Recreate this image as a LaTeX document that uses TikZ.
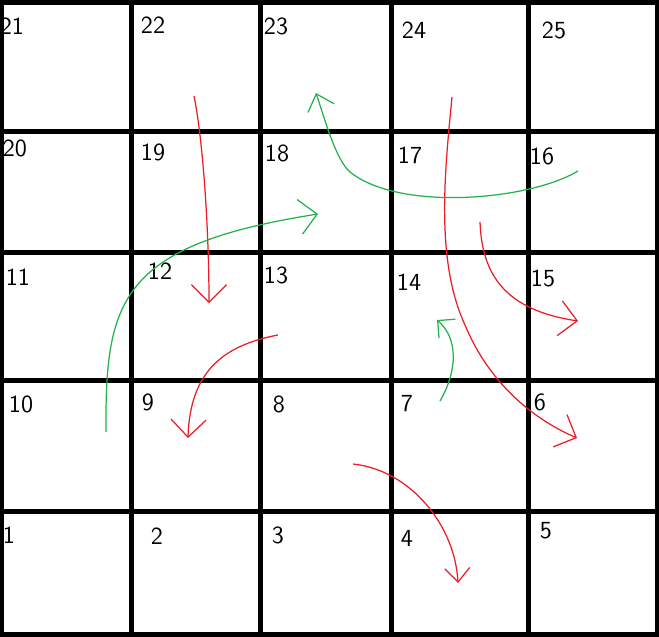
\documentclass[tikz,border=0pt]{standalone}
\usepackage{tikz}
\usetikzlibrary{arrows.meta}
\definecolor{paintRed}{RGB}{237, 28, 36}
\definecolor{paintGreen}{RGB}{34, 177, 76}

\begin{document}
\begin{tikzpicture}[x=0.02cm, y=-0.02cm,
  board/.style={line width=0.1cm, black},
  num/.style={font=\sffamily\fontsize{14}{14}\selectfont, inner sep=0pt},
  snake/.style={draw=paintRed, line width=0.7pt, -{Straight Barb[length=3.5mm,width=7mm]}},
  ladder/.style={draw=paintGreen, line width=0.7pt, -{Straight Barb[length=3.5mm,width=7mm]}}]

  \useasboundingbox (0,0) rectangle (659,636);
  \fill[white] (0,0) rectangle (659,636);

  % board
  \foreach \x in {2,131,260,391,528,657}
    \draw[board] (\x,-1) -- (\x,637);
  \foreach \y in {2,131,252,380,511,634}
    \draw[board] (-1,\y) -- (660,\y);

  % square numbers
  \foreach \n/\x/\y in {1/9/535, 2/157/536, 3/278/535, 4/407/538, 5/546/531,
                        6/540/402, 7/407/404, 8/279/404, 9/148/402, 10/21/404,
                        11/18/277, 12/160/271, 13/276/275, 14/409/282, 15/543/278,
                        16/542/156, 17/410/155, 18/277/153, 19/153/152, 20/15/148,
                        21/12/26, 22/153/25, 23/276/26, 24/414/30, 25/554/30}
    \node[num] (c\n) at (\x,\y) {\n};

  % ends of snakes and ladders
  \coordinate (s1) at (194,96);   \coordinate (e1) at (209,303);
  \coordinate (s2) at (278,335);  \coordinate (e2) at (188,438);
  \coordinate (s3) at (452,97);   \coordinate (e3) at (577,438);
  \coordinate (s4) at (480,222);  \coordinate (e4) at (578,321);
  \coordinate (s5) at (353,464);  \coordinate (e5) at (458,583);
  \coordinate (l1) at (106,432);  \coordinate (t1) at (318,214);
  \coordinate (l2) at (578,171);  \coordinate (t2) at (316,93);
  \coordinate (l3) at (440,401);  \coordinate (t3) at (437,320);

  % snakes
  \draw[snake] (s1) .. controls (203,140) and (209,230) .. (e1);
  \draw[snake] (s2) .. controls (225,345) and (190,370) .. (e2);
  \draw[snake] (s3) .. controls (445,170) and (435,260) .. (465,325)
                    .. controls (490,385) and (535,420) .. (e3);
  \draw[snake] (s4) .. controls (482,275) and (505,310) .. (e4);
  \draw[snake,-{Straight Barb[length=2.8mm,width=5mm]}]
    (s5) .. controls (410,470) and (455,525) .. (e5);

  % ladders
  \draw[ladder] (l1) .. controls (105,300) and (120,245) .. (t1);
  \draw[ladder,-{Straight Barb[length=3mm,width=5.5mm]}]
    (l2) .. controls (530,200) and (400,212) .. (350,172)
         .. controls (336,160) and (325,120) .. (t2);
  \draw[ladder,-{Straight Barb[length=2.5mm,width=5mm]}]
    (l3) .. controls (458,370) and (458,338) .. (t3);

\end{tikzpicture}
\end{document}
